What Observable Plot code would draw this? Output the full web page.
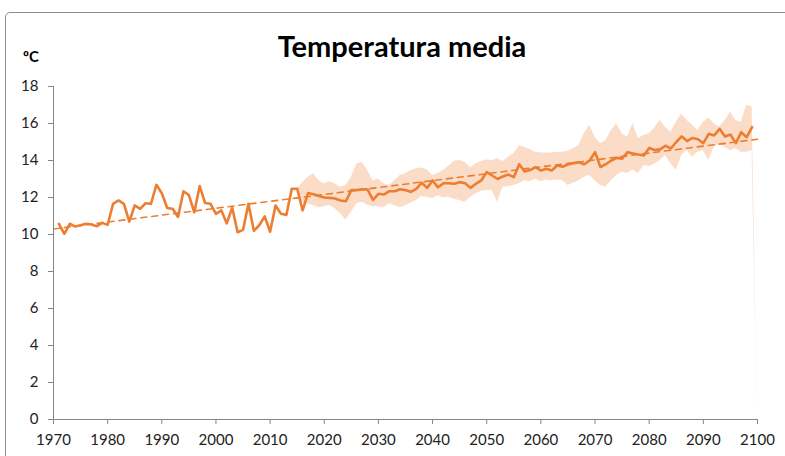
<!DOCTYPE html>
<html>
<head>
<meta charset="utf-8">
<script src="https://cdn.jsdelivr.net/npm/d3@7"></script>
<script src="https://cdn.jsdelivr.net/npm/@observablehq/plot@0.6"></script>
<style>
  html, body { margin: 0; padding: 0; background: #fff; }
  #wrap { position: relative; width: 785px; height: 456px; overflow: hidden; background: #fff; font-family: Lato, "Open Sans", sans-serif; }
  #frame { position: absolute; left: 5px; top: 12px; width: 820px; height: 480px; border: 1px solid #8c8c8c; border-radius: 5px; box-sizing: border-box; }
  #head { position: relative; height: 70px; }
  #title { position: absolute; left: 402px; top: 31px; transform: translateX(-50%); font-size: 29px; line-height: 29px; font-weight: 700; color: #000; white-space: nowrap; }
  #unit { position: absolute; left: 23px; top: 49px; font-size: 15px; line-height: 15px; font-weight: 700; color: #000; }
  #chart { position: relative; }
</style>
</head>
<body>
<div id="wrap">
  <div id="frame"></div>
  <div id="head">
    <div id="title">Temperatura media</div>
    <div id="unit">ºC</div>
  </div>
  <div id="chart"></div>
</div>
<script>
// ---- Data ----
const firstYear = 1971;
const temperature = [
  10.58, 10.04, 10.58, 10.43, 10.5, 10.58, 10.54, 10.45, 10.63, 10.52,   // 1971-1980
  11.66, 11.84, 11.66, 10.7, 11.57, 11.39, 11.69, 11.66, 12.69, 12.23,   // 1981-1990
  11.43, 11.39, 10.95, 12.34, 12.13, 11.2, 12.62, 11.7, 11.66, 11.12,    // 1991-2000
  11.3, 10.6, 11.45, 10.12, 10.25, 11.66, 10.2, 10.5, 10.98, 10.15,      // 2001-2010
  11.57, 11.12, 11.06, 12.47, 12.47, 11.3, 12.24, 12.18, 12.08, 12.0,    // 2011-2020
  11.98, 11.95, 11.84, 11.8, 12.4, 12.4, 12.45, 12.43, 11.87, 12.2,      // 2021-2030
  12.16, 12.34, 12.34, 12.45, 12.4, 12.3, 12.47, 12.8, 12.52, 12.92,     // 2031-2040
  12.55, 12.77, 12.77, 12.74, 12.83, 12.77, 12.52, 12.74, 12.92, 13.37,  // 2041-2050
  13.19, 13.0, 13.14, 13.24, 13.1, 13.8, 13.4, 13.48, 13.64, 13.46,      // 2051-2060
  13.55, 13.46, 13.73, 13.66, 13.78, 13.86, 13.9, 13.8, 14.0, 14.45,     // 2061-2070
  13.65, 13.8, 14.0, 14.14, 14.1, 14.45, 14.38, 14.32, 14.27, 14.68,     // 2071-2080
  14.57, 14.6, 14.8, 14.65, 15.0, 15.3, 15.05, 15.22, 15.15, 14.94,      // 2081-2090
  15.44, 15.35, 15.71, 15.3, 15.4, 14.94, 15.53, 15.26, 15.8             // 2091-2099
];

const bandFirstYear = 2015;
const bandLow = [
  12.47, 11.7, 11.65, 11.57, 11.44,                                      // 2015-2019
  11.5, 11.57, 11.39, 11.12, 10.79, 11.2, 11.66, 11.75, 11.6, 11.5,      // 2020-2029
  11.5, 11.44, 11.66, 11.55, 11.44, 11.55, 11.7, 11.84, 12.05, 12.02,    // 2030-2039
  11.93, 12.1, 11.98, 12.02, 11.9, 11.84, 11.75, 12.0, 12.2, 12.34,      // 2040-2049
  12.38, 12.38, 11.75, 12.56, 12.6, 12.65, 12.74, 12.92, 12.85, 13.0,    // 2050-2059
  12.85, 12.95, 12.9, 12.95, 12.92, 12.65, 12.77, 12.9, 13.1, 13.19,     // 2060-2069
  12.9, 12.65, 12.55, 12.92, 13.19, 13.37, 13.3, 13.48, 13.28, 13.73,    // 2070-2079
  13.68, 13.8, 14.0, 14.27, 13.82, 13.46, 14.27, 14.54, 14.18, 14.45,    // 2080-2089
  14.54, 14.0, 14.72, 14.9, 14.72, 14.54, 14.63, 14.45, 14.45, 14.54,    // 2090-2099
  0                                                                      // 2100
];
const bandHigh = [
  12.47, 12.8, 13.1, 13.28, 12.9,                                        // 2015-2019
  12.74, 12.85, 12.74, 12.55, 12.65, 13.1, 13.8, 13.9, 13.46, 12.9,      // 2020-2029
  13.0, 12.74, 12.65, 12.9, 13.19, 13.28, 13.46, 13.55, 13.6, 13.5,      // 2030-2039
  13.19, 13.3, 13.46, 13.7, 13.96, 14.0, 13.9, 13.6, 13.82, 13.95,       // 2040-2049
  14.03, 14.0, 14.09, 13.95, 14.18, 14.36, 14.8, 14.72, 14.6, 14.45,     // 2050-2059
  14.4, 14.4, 14.4, 14.45, 14.45, 14.5, 14.63, 14.8, 15.44, 15.9,        // 2060-2069
  15.26, 14.9, 15.08, 15.62, 15.98, 15.44, 15.26, 16.0, 15.17, 15.35,    // 2070-2079
  15.44, 15.75, 16.16, 15.8, 15.53, 16.07, 16.52, 16.16, 15.9, 15.62,    // 2080-2089
  16.07, 16.3, 15.98, 15.8, 16.16, 16.61, 16.16, 16.07, 16.97, 16.9,     // 2090-2099
  0                                                                      // 2100
];

const trendYears = [1970, 2100];
const trendValues = [10.3, 15.15];

const xTicks = [1970, 1980, 1990, 2000, 2010, 2020, 2030, 2040, 2050, 2060, 2070, 2080, 2090, 2100];
const yTicks = [0, 2, 4, 6, 8, 10, 12, 14, 16, 18];

// ---- Tables built from the arrays ----
const lineData = temperature.map((v, i) => ({year: firstYear + i, value: v}));
const bandData = bandLow.map((lo, i) => ({year: bandFirstYear + i, lo, hi: bandHigh[i]}));
const trendData = trendYears.map((y, i) => ({year: y, value: trendValues[i]}));

const orange = "#ED7D31";
const axisGray = "#868686";

const chart = Plot.plot({
  width: 785,
  height: 386,
  marginLeft: 53,
  marginRight: 28,
  marginTop: 16,
  marginBottom: 37,
  style: {fontFamily: "Lato, 'Open Sans', sans-serif", fontSize: "15px", background: "transparent", overflow: "visible"},
  x: {domain: [1970, 2100]},
  y: {domain: [0, 18]},
  marks: [
    Plot.areaY(bandData, {x: "year", y1: "lo", y2: "hi", fill: orange, fillOpacity: 0.27, curve: "linear"}),
    Plot.line(trendData, {x: "year", y: "value", stroke: orange, strokeWidth: 1.6, strokeDasharray: "6,5"}),
    Plot.line(lineData, {x: "year", y: "value", stroke: orange, strokeWidth: 2.6, strokeLinejoin: "round"}),
    Plot.ruleY([0], {stroke: axisGray, strokeWidth: 1}),
    Plot.ruleX([1970], {y1: 0, y2: 18, stroke: axisGray, strokeWidth: 1}),
    Plot.axisX({ticks: xTicks, tickFormat: d => String(d), tickSize: 5, tickPadding: 10, stroke: axisGray, fill: "#222", label: null}),
    Plot.axisY({ticks: yTicks, tickFormat: d => String(d), tickSize: 5, tickPadding: 10, stroke: axisGray, fill: "#222", label: null})
  ]
});
document.getElementById("chart").appendChild(chart);
</script>
</body>
</html>
